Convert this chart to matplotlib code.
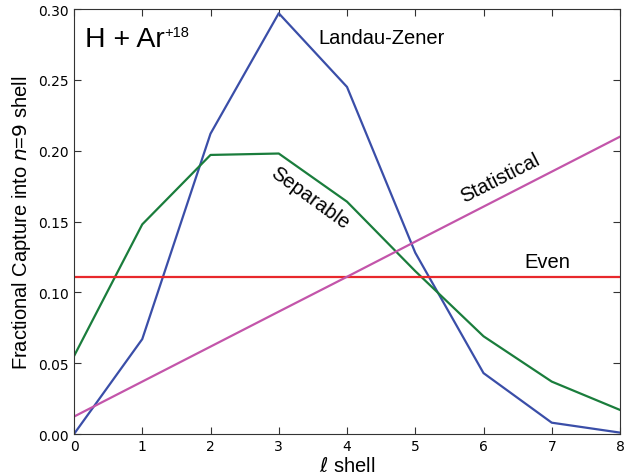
import matplotlib
matplotlib.use("Agg")
import matplotlib.pyplot as plt

l_shell = [0, 1, 2, 3, 4, 5, 6, 7, 8]
landau_zener = [0.000, 0.067, 0.212, 0.297, 0.245, 0.128, 0.043, 0.008, 0.001]
separable = [0.055, 0.148, 0.197, 0.198, 0.164, 0.115, 0.069, 0.037, 0.017]
even = [0.111] * 9
statistical = [0.0123, 0.037, 0.0617, 0.0864, 0.111, 0.1358, 0.1605, 0.1852, 0.2099]

fig = plt.figure(figsize=(6.24, 4.77), dpi=100)
ax = fig.add_axes([0.1186, 0.088, 0.875, 0.891])

lw = 1.6
ax.plot(l_shell, landau_zener, color="#3a4ea8", lw=lw)
ax.plot(l_shell, separable, color="#1a7d3c", lw=lw)
ax.plot(l_shell, even, color="#e8282c", lw=lw)
ax.plot(l_shell, statistical, color="#c355aa", lw=lw)

ax.set_xlim(0, 8)
ax.set_ylim(0, 0.30)
ax.set_xticks(range(0, 9))
ax.set_yticks([0.0, 0.05, 0.10, 0.15, 0.20, 0.25, 0.30])
ax.set_yticklabels(["0.00", "0.05", "0.10", "0.15", "0.20", "0.25", "0.30"])
ax.tick_params(direction="in", top=True, right=True, labelsize=10, length=5, color="#333333")
for s in ax.spines.values():
    s.set_color("#333333")

hf = "Liberation Sans"
ax.set_ylabel("Fractional Capture into $\\mathit{n}$=$\\mathit{9}$ shell", fontsize=14.5, family=hf)
ax.set_xlabel("$\\ell$ shell", fontsize=14.5, family=hf, labelpad=2)

ax.text(0.16, 0.2785, "H + Ar", fontsize=20.5, family=hf, va="center", ha="left")
ax.text(1.32, 0.2885, "+18", fontsize=10.5, family=hf, va="top", ha="left")
ax.text(3.58, 0.280, "Landau-Zener", fontsize=14.5, family=hf, va="center", ha="left")
ax.text(3.46, 0.167, "Separable", fontsize=14.5, family=hf, va="center", ha="center", rotation=-36)
ax.text(6.24, 0.181, "Statistical", fontsize=14.5, family=hf, va="center", ha="center", rotation=27)
ax.text(6.94, 0.1215, "Even", fontsize=14.5, family=hf, va="center", ha="center")

fig.savefig("out.png", dpi=100)
